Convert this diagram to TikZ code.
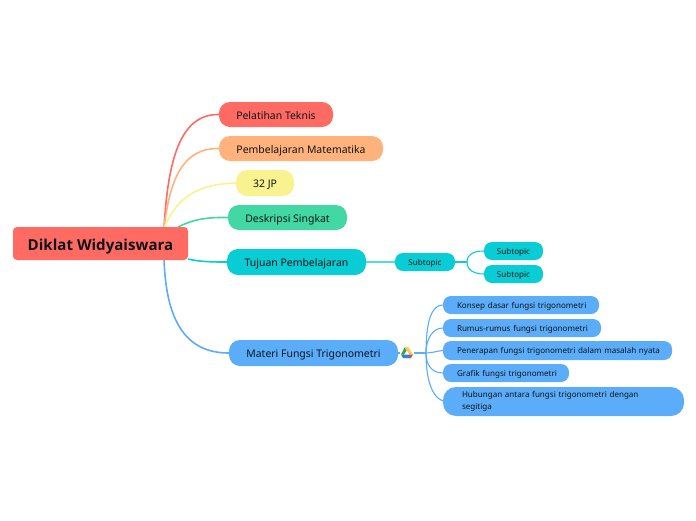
\documentclass[tikz,border=0pt]{standalone}
\usepackage{fontspec}
\setmainfont{Noto Sans}
\newfontfamily\rootfont{Open Sans}
\usetikzlibrary{backgrounds}
\definecolor{cred}{HTML}{FF6B63}
\definecolor{corange}{HTML}{FFB27B}
\definecolor{cyellow}{HTML}{F8F38F}
\definecolor{cgreen}{HTML}{41D8A4}
\definecolor{ccyan}{HTML}{08CDD4}
\definecolor{cblue}{HTML}{5BADF9}
\definecolor{ink}{HTML}{101418}
\definecolor{dgreen}{HTML}{2DA94F}
\definecolor{dyellow}{HTML}{FFCB3D}
\definecolor{dred}{HTML}{EA4335}
\definecolor{dblue}{HTML}{3E7BE8}
\definecolor{dteal}{HTML}{1C9A5A}
\tikzset{
  x=1pt,y=-1pt,
  topic/.style={text=ink,rounded corners=11pt,inner sep=0pt,font=\fontsize{10.45}{13}\selectfont,align=center,text height=9pt,text depth=0pt},
  roottopic/.style={topic,rounded corners=4pt,font=\rootfont\fontsize{15.1}{18}\selectfont\bfseries,text height=13pt},
  smalltopic/.style={text=ink,rounded corners=8pt,inner sep=0pt,font=\fontsize{8.05}{11.3}\selectfont,align=center,text height=6.6pt,text depth=0pt},
  leaf/.style={smalltopic,align=left,text width=#1},
  hubtopic/.style={text=ink,rounded corners=13pt,inner sep=0pt,font=\fontsize{8.05}{11.3}\selectfont,align=left,text width=#1},
  conn/.style={line width=1.6pt},
  thin conn/.style={line width=1.1pt},
}
\newcommand{\boxnode}[7]{%
  \node[#2,fill=#3,minimum width={#6-#4},minimum height={#7-#5}] (#1) at ({(#4+#6)/2},{(#5+#7)/2})}
\begin{document}
\begin{tikzpicture}
\useasboundingbox (0,0) rectangle (696,520);
\boxnode{root}{roottopic}{cred}{13}{227}{188}{260} {Diklat Widyaiswara};
\boxnode{pel}{topic}{cred}{219}{102}{333}{127} {Pelatihan Teknis};
\boxnode{pem}{topic}{corange}{219}{136}{383}{161} {Pembelajaran Matematika};
\boxnode{jp}{topic}{cyellow}{236}{170}{294}{196} {32 JP};
\boxnode{des}{topic}{cgreen}{228}{205}{347}{230} {Deskripsi Singkat};
\boxnode{tuj}{topic}{ccyan}{227}{249}{366}{275} {Tujuan Pembelajaran};
\boxnode{mat}{topic}{cblue}{229}{340}{398}{366} {Materi Fungsi Trigonometri};
\boxnode{sub}{smalltopic}{ccyan}{395}{253}{455}{271} {Subtopic};
\boxnode{suba}{smalltopic}{ccyan}{484}{242}{543}{260} {Subtopic};
\boxnode{subb}{smalltopic}{ccyan}{484}{265}{543}{283} {Subtopic};
\boxnode{kon}{leaf=156pt}{cblue}{443}{296}{599}{314} {\hspace*{14pt}Konsep dasar fungsi trigonometri};
\boxnode{rum}{leaf=158pt}{cblue}{443}{319}{601}{337} {\hspace*{14pt}Rumus-rumus fungsi trigonometri};
\boxnode{pen}{leaf=229pt}{cblue}{443}{341}{672}{360} {\hspace*{14pt}Penerapan fungsi trigonometri dalam masalah nyata};
\boxnode{gra}{leaf=126pt}{cblue}{443}{364}{569}{382} {\hspace*{14pt}Grafik fungsi trigonometri};
\boxnode{hub}{hubtopic=241pt}{cblue}{443}{387}{684}{416} {\hspace*{19pt}Hubungan antara fungsi trigonometri dengan\\\hspace*{19pt}segitiga};
\coordinate (rt) at (164,228);
\coordinate (rb) at (164,259);
\coordinate (rr) at (188,259);
\coordinate (rg) at (178,227);
\coordinate (hubin) at (443,401);
\coordinate (hub0) at (426,353);
\coordinate (forka) at (467,262);
\begin{scope}[on background layer]
\draw[conn,cred] (rt) .. controls (168,160) and (180,114) .. (pel.west);
\draw[conn,corange] (rt) .. controls (170,180) and (182,148) .. (pem.west);
\draw[conn,cyellow] (rt) .. controls (178,195) and (200,184) .. (jp.west);
\draw[conn,cgreen] (rg) .. controls (192,220) and (205,217) .. (des.west);
\draw[conn,ccyan] (rr) .. controls (200,262) and (215,262) .. (tuj.west);
\draw[conn,cblue] (rb) .. controls (166,320) and (185,353) .. (mat.west);
\draw[thin conn,ccyan!70!white] (tuj.east) -- (sub.west);
\draw[thin conn,ccyan] (sub.east) -- (forka);
\draw[thin conn,ccyan] (forka) .. controls (467,254) and (474,251) .. (suba.west);
\draw[thin conn,ccyan] (forka) .. controls (467,270) and (474,274) .. (subb.west);
\draw[conn,cblue] (mat.east) -- (hub0);
\draw[thin conn,cblue] (hub0) .. controls (426,320) and (432,305) .. (kon.west);
\draw[thin conn,cblue] (hub0) .. controls (426,340) and (432,328) .. (rum.west);
\draw[thin conn,cblue] (hub0) .. controls (432,353) and (437,351) .. (pen.west);
\draw[thin conn,cblue] (hub0) .. controls (426,365) and (432,373) .. (gra.west);
\draw[thin conn,cblue] (hub0) .. controls (426,380) and (432,397) .. (hubin);
\end{scope}
% Drive icon
\fill[white] (400,346) rectangle (414,359);
\fill[dgreen] (404.5,347.5) -- (408.5,347.5) -- (404,354.5) -- (401,354.5) -- cycle;
\fill[dyellow] (404.5,347.5) -- (408.5,347.5) -- (413,354.5) -- (409.5,354.5) -- cycle;
\fill[dred] (409.5,354.5) -- (413,354.5) -- (411,358) -- (407,358) -- cycle;
\fill[dblue] (403,354.5) -- (409.5,354.5) -- (411,358) -- (403,358) -- cycle;
\fill[dteal] (401,354.5) -- (404,354.5) -- (403,358) -- cycle;
\end{tikzpicture}
\end{document}
